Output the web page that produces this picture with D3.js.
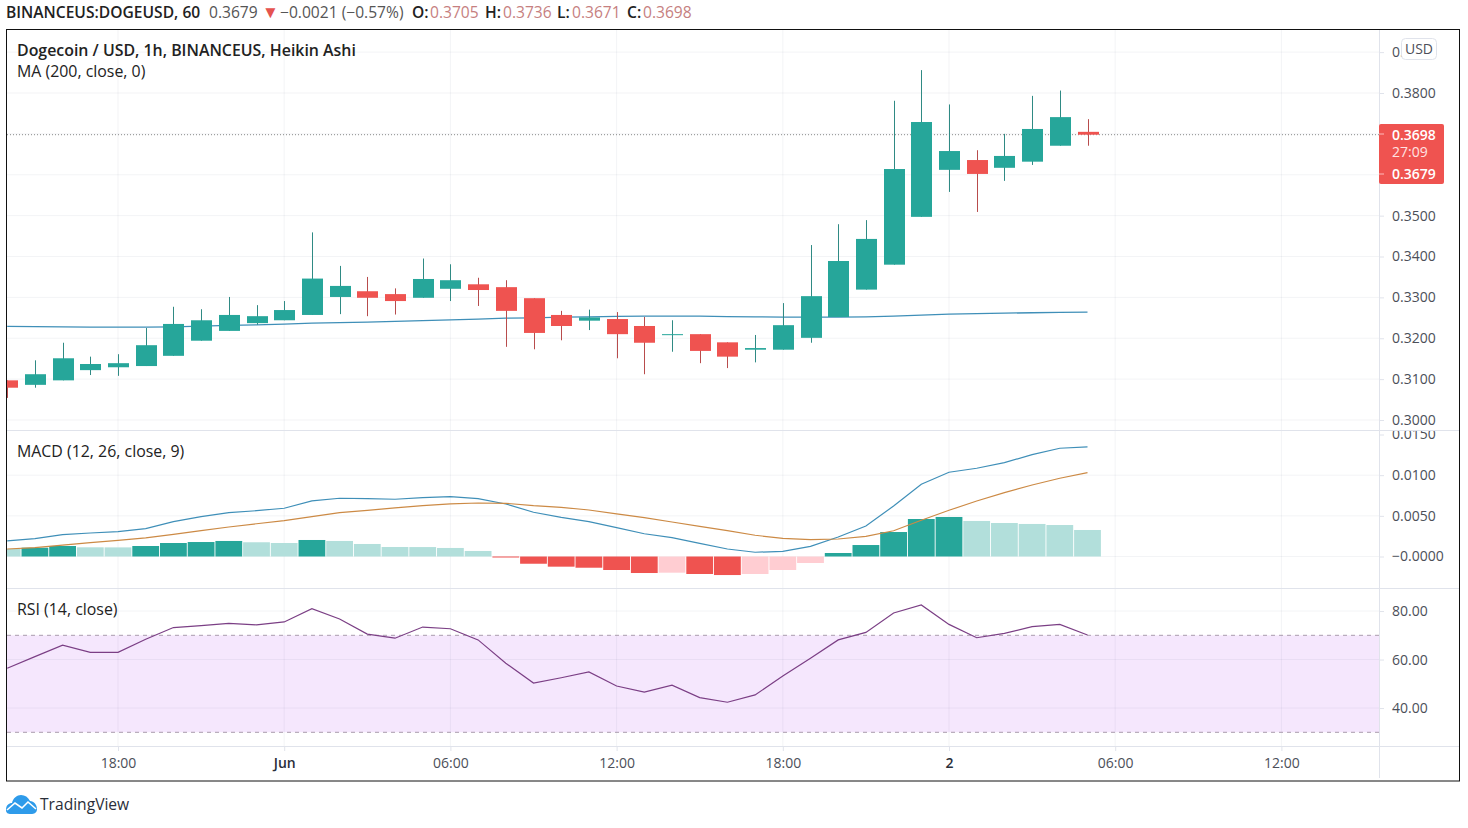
<!DOCTYPE html>
<html>
<head>
<meta charset="utf-8">
<title>DOGEUSD</title>
<script src="https://cdn.jsdelivr.net/npm/d3@7/dist/d3.min.js"></script>
<style>
    html, body { margin: 0; padding: 0; background: #fff; }
    svg { display: block; font-family: "Open Sans", sans-serif; }
    .axis text { font-size: 14px; fill: #4c4f59; font-family: "Open Sans", sans-serif; }
    .axis line { stroke: #e0e3eb; }
    .axis path { display: none; }
    .title { font-size: 15.9px; fill: #222; }
</style>
</head>
<body>
<svg id="chart" width="1468" height="828"></svg>
<script>
// hourly heikin ashi candles, first one is May 31 14:00
const opens  = [.3097,.3086,.3097,.3122,.3129,.3132,.3157,.3194,.3218,.3237,.3244,.3257,.3301,.3315,.3308,.3299,.3321,.3332,.3325,.3298,.3257,.3243,.3247,.3230,.3208,.3210,.3190,.3172,.3172,.3201,.3252,.3319,.3380,.3497,.3612,.3636,.3617,.3632,.3671,.3705];
const highs  = [.3097,.3146,.3189,.3155,.3161,.3225,.3277,.3271,.3301,.3281,.3291,.3459,.3377,.3350,.3322,.3395,.3381,.3348,.3342,.3298,.3267,.3270,.3264,.3252,.3244,.3210,.3190,.3208,.3286,.3428,.3479,.3489,.3781,.3856,.3772,.3660,.3700,.3793,.3806,.3736];
const lows   = [.3054,.3079,.3097,.3110,.3108,.3132,.3157,.3194,.3218,.3233,.3244,.3257,.3259,.3254,.3258,.3299,.3291,.3279,.3179,.3173,.3195,.3220,.3151,.3112,.3167,.3139,.3127,.3141,.3172,.3189,.3252,.3319,.3380,.3497,.3558,.3509,.3585,.3624,.3671,.3671];
const closes = [.3079,.3112,.3151,.3137,.3139,.3183,.3235,.3244,.3257,.3254,.3269,.3346,.3328,.3299,.3291,.3345,.3342,.3318,.3267,.3213,.3230,.3251,.3210,.3189,.3210,.3169,.3155,.3176,.3232,.3303,.3389,.3443,.3614,.3729,.3658,.3602,.3646,.3712,.3741,.3698];
const maValues = [.32289,.32284,.32279,.32272,.32272,.32272,.32279,.32296,.32313,.32328,.32345,.32370,.32382,.32394,.32411,.32431,.32450,.32467,.32492,.32499,.32516,.32524,.32534,.32541,.32541,.32541,.32528,.32524,.32516,.32516,.32516,.32524,.32541,.32565,.32590,.32602,.32614,.32624,.32634,.32639];

const macdLine = [.00191,.00219,.00268,.00289,.00305,.00342,.00428,.0049,.00539,.00563,.00593,.00683,.00716,.00711,.00704,.00723,.00736,.00711,.00646,.00544,.00482,.00428,.00354,.0028,.00231,.00162,.00092,.00052,.00064,.00125,.0024,.00375,.00621,.00888,.01036,.01085,.01154,.01252,.01331,.01347];
const signalLine = [.00092,.00108,.00141,.0017,.00199,.00228,.00273,.00317,.00363,.00403,.0044,.0049,.00539,.00568,.00597,.00625,.00646,.00658,.00654,.00625,.00605,.00572,.00523,.00477,.00424,.00371,.00317,.00261,.00224,.00207,.00215,.00248,.00317,.00445,.00568,.00683,.00785,.00879,.00962,.01031];
const macdHist = [.00092,.00108,.00129,.00113,.00112,.00129,.00166,.00178,.00191,.00175,.00166,.00203,.00191,.00154,.00117,.00116,.00105,.00068,-.00004,-.00089,-.00125,-.00138,-.00166,-.00203,-.00199,-.00215,-.00228,-.00215,-.00166,-.0008,.00043,.00141,.00301,.00461,.00486,.00437,.00412,.004,.00387,.00326];
const rsiValues = [56.4,61.2,65.9,63.0,63.0,68.4,73.2,74.0,74.9,74.3,75.5,81.0,76.7,70.5,68.8,73.4,72.7,68.1,58.5,50.3,52.5,54.9,49.1,46.6,49.4,44.3,42.4,45.4,53.2,60.5,68.1,71.2,79.2,82.5,74.5,69.0,70.8,73.6,74.5,70.1];

const priceTicks = [.39,.38,.37,.36,.35,.34,.33,.32,.31,.30];
const macdTicks = [.015,.01,.005,0];
const macdTickLabels = ["0.0150","0.0100","0.0050","\u22120.0000"];
const rsiTicks = [80,60,40];
const rsiBands = [70,30];
const timeTickHours = [4,10,16,22,28,34,40,46];
const timeTickLabels = ["18:00","Jun","06:00","12:00","18:00","2","06:00","12:00"];
const boldTimeLabels = ["Jun","2"];

const HOUR = 3600000;
const t0 = Date.UTC(2021, 4, 31, 14);
const times = opens.map((d, i) => new Date(t0 + i * HOUR));
const timeTicks = timeTickHours.map(h => new Date(t0 + h * HOUR));

const left = 7, right = 1379, frameRight = 1460, top_ = 30, bottom = 781;
const sepMain = 430, sepMacd = 588, sepTime = 746;

const green = "#26a69a", red = "#ef5350", greenWick = "#2f8a84", redWick = "#b84c4c";
const lightGreen = "#b2dfdb", lightRed = "#ffcdd2";
const gridColor = "rgba(42,46,90,.055)";

let x = d3.scaleUtc().domain([new Date(t0), new Date(t0 + 50 * HOUR)]).range([7.2, 7.2 + 27.7 * 50]);
let y = d3.scaleLinear().domain([.30, .38]).range([420, 93]);
let yMacd = d3.scaleLinear().domain([0, .015]).range([556.5, 434.5]);
let yRsi = d3.scaleLinear().domain([30, 70]).range([732.3, 635.3]);

let svg = d3.select("#chart");
let defs = svg.append("defs");

function addClip(id, x0, y0, w, h) {
    defs.append("clipPath").attr("id", id)
        .append("rect").attr("x", x0).attr("y", y0).attr("width", w).attr("height", h);
}
addClip("clipMain", left, top_, right - left, sepMain - top_);
addClip("clipMacd", left, sepMain + 1, right - left, sepMacd - sepMain - 1);
addClip("clipRsi", left, sepMacd + 1, right - left, sepTime - sepMacd - 1);
addClip("clipMacdAxis", right, sepMain + 1, frameRight - right, sepMacd - sepMain - 1);

// rsi band goes under the grid
svg.append("rect")
    .attr("x", left)
    .attr("y", yRsi(rsiBands[0]))
    .attr("width", right - left)
    .attr("height", yRsi(rsiBands[1]) - yRsi(rsiBands[0]))
    .attr("fill", "#f5e7fd");

/**
 * Grid
 */
function hGrid(scale, values) {
    svg.append("g").selectAll("line")
        .data(values)
        .join("line")
        .attr("x1", left).attr("x2", right)
        .attr("y1", d => scale(d)).attr("y2", d => scale(d))
        .attr("stroke", gridColor);
}
hGrid(y, priceTicks);
hGrid(yMacd, macdTicks.slice(1));
hGrid(yRsi, rsiTicks);

svg.append("g").selectAll("line")
    .data(timeTicks)
    .join("line")
    .attr("x1", d => x(d)).attr("x2", d => x(d))
    .attr("y1", top_).attr("y2", sepTime)
    .attr("stroke", gridColor);

/**
 * Main pane
 */
let main = svg.append("g").attr("clip-path", "url(#clipMain)");

main.append("line")
    .attr("x1", left).attr("x2", right)
    .attr("y1", y(closes[closes.length - 1])).attr("y2", y(closes[closes.length - 1]))
    .attr("stroke", "#8a8a8a")
    .attr("stroke-dasharray", "1 2");

main.append("path")
    .datum(maValues)
    .attr("fill", "none")
    .attr("stroke", "#3f8fb8")
    .attr("stroke-width", 1.3)
    .attr("d", d3.line().x((d, i) => x(times[i])).y(d => y(d)));

let candles = main.selectAll("g.candle")
    .data(times)
    .join("g")
    .attr("class", "candle");

candles.append("line")
    .attr("x1", d => Math.round(x(d)) + .5).attr("x2", d => Math.round(x(d)) + .5)
    .attr("y1", (d, i) => y(highs[i]))
    .attr("y2", (d, i) => y(lows[i]))
    .attr("stroke", (d, i) => closes[i] >= opens[i] ? greenWick : redWick);

candles.append("rect")
    .attr("x", d => Math.round(x(d)) - 10)
    .attr("width", 21)
    .attr("y", (d, i) => y(Math.max(opens[i], closes[i])))
    .attr("height", (d, i) => Math.max(1, Math.abs(y(opens[i]) - y(closes[i]))))
    .attr("fill", (d, i) => closes[i] >= opens[i] ? green : red);

/**
 * MACD pane
 */
function histColor(v, i) {
    let prev = i > 0 ? macdHist[i - 1] : Infinity;
    if (v >= 0) return v > prev ? green : lightGreen;
    return v < prev ? red : lightRed;
}

let macdPane = svg.append("g").attr("clip-path", "url(#clipMacd)");

macdPane.selectAll("rect")
    .data(macdHist)
    .join("rect")
    .attr("x", (d, i) => x(times[i]) - 13.4)
    .attr("width", 26.8)
    .attr("y", d => d >= 0 ? yMacd(d) : yMacd(0))
    .attr("height", d => Math.max(1, Math.abs(yMacd(d) - yMacd(0))))
    .attr("fill", histColor);

function macdPath(values, color) {
    macdPane.append("path")
        .datum(values)
        .attr("fill", "none")
        .attr("stroke", color)
        .attr("stroke-width", 1.2)
        .attr("d", d3.line().x((d, i) => x(times[i])).y(d => yMacd(d)));
}
macdPath(macdLine, "#3f8fb8");
macdPath(signalLine, "#cc8a45");

/**
 * RSI pane
 */
let rsiPane = svg.append("g").attr("clip-path", "url(#clipRsi)");

rsiPane.selectAll("line")
    .data(rsiBands)
    .join("line")
    .attr("x1", left).attr("x2", right)
    .attr("y1", d => yRsi(d)).attr("y2", d => yRsi(d))
    .attr("stroke", "#a99cad")
    .attr("stroke-dasharray", "4 4");

rsiPane.append("path")
    .datum(rsiValues)
    .attr("fill", "none")
    .attr("stroke", "#7b3f85")
    .attr("stroke-width", 1.2)
    .attr("d", d3.line().x((d, i) => x(times[i])).y(d => yRsi(d)));

/**
 * Separators and axes
 */
svg.append("g").selectAll("line")
    .data([sepMain, sepMacd, sepTime])
    .join("line")
    .attr("x1", left).attr("x2", frameRight)
    .attr("y1", d => d + .5).attr("y2", d => d + .5)
    .attr("stroke", "#e0e3eb");

svg.append("line")
    .attr("x1", right + .5).attr("x2", right + .5)
    .attr("y1", top_).attr("y2", bottom - 3)
    .attr("stroke", "#e0e3eb");

svg.append("g")
    .attr("class", "axis")
    .attr("transform", `translate(${right},0)`)
    .call(d3.axisRight(y).tickValues(priceTicks).tickFormat(d3.format(".4f")).tickSize(5).tickPadding(8));

svg.append("g")
    .attr("clip-path", "url(#clipMacdAxis)")
    .append("g")
    .attr("class", "axis")
    .attr("transform", `translate(${right},0)`)
    .call(d3.axisRight(yMacd).tickValues(macdTicks).tickFormat((d, i) => macdTickLabels[i]).tickSize(5).tickPadding(8));

svg.append("g")
    .attr("class", "axis")
    .attr("transform", `translate(${right},0)`)
    .call(d3.axisRight(yRsi).tickValues(rsiTicks).tickFormat(d3.format(".2f")).tickSize(5).tickPadding(8));

let timeAxis = svg.append("g")
    .attr("class", "axis")
    .attr("transform", `translate(0,${sepTime})`)
    .call(d3.axisBottom(x).tickValues(timeTicks).tickFormat((d, i) => timeTickLabels[i]).tickSize(5).tickPadding(7));

timeAxis.selectAll("text")
    .filter(function() { return boldTimeLabels.includes(this.textContent); })
    .style("font-weight", 600)
    .style("fill", "#2a2e39");

// last price label
svg.append("rect")
    .attr("x", right).attr("y", 124)
    .attr("width", 65).attr("height", 60)
    .attr("rx", 2)
    .attr("fill", red);

let priceLabels = svg.append("g")
    .attr("fill", "#fff")
    .attr("font-size", 14);
priceLabels.append("text").attr("x", 1392).attr("y", 139.5).attr("font-weight", 600).text("0.3698");
priceLabels.append("text").attr("x", 1392).attr("y", 157).attr("fill", "#ffe3e3").text("27:09");
priceLabels.append("text").attr("x", 1392).attr("y", 178.5).attr("font-weight", 600).text("0.3679");

svg.append("g").selectAll("line")
    .data([134, 174])
    .join("line")
    .attr("x1", right).attr("x2", right + 5)
    .attr("y1", d => d).attr("y2", d => d)
    .attr("stroke", "#fbb");

// currency button sits over the top tick label
svg.append("rect")
    .attr("x", 1401.5).attr("y", 38.5)
    .attr("width", 35).attr("height", 21)
    .attr("rx", 4)
    .attr("fill", "#fff")
    .attr("stroke", "#e0e3eb");
svg.append("text")
    .attr("x", 1419).attr("y", 54)
    .attr("text-anchor", "middle")
    .attr("font-size", 14)
    .attr("fill", "#4c4f59")
    .text("USD");

// frame
svg.append("rect")
    .attr("x", 6.5).attr("y", 29.5)
    .attr("width", 1453).attr("height", 751.5)
    .attr("fill", "none")
    .attr("stroke", "#111");

/**
 * Texts
 */
let header = svg.append("text").attr("y", 18).attr("font-size", 15.6).attr("fill", "#555");
function tspan(text, at, color, weight) {
    return header.append("tspan").attr("x", at).attr("fill", color).attr("font-weight", weight || 400).text(text);
}
tspan("BINANCEUS:DOGEUSD, 60", 6, "#222", 600);
tspan("0.3679", 209, "#555");
tspan("\u25BC", 262, "#e5534f").attr("font-size", 17);
tspan("\u22120.0021 (\u22120.57%)", 280, "#555");
tspan("O:", 412, "#222", 600);
tspan("0.3705", 430, "#c67f7f");
tspan("H:", 485, "#222", 600);
tspan("0.3736", 503, "#c67f7f");
tspan("L:", 557, "#222", 600);
tspan("0.3671", 572, "#c67f7f");
tspan("C:", 627, "#222", 600);
tspan("0.3698", 643, "#c67f7f");

svg.append("text").attr("class", "title").attr("x", 17).attr("y", 56).attr("font-weight", 600).text("Dogecoin / USD, 1h, BINANCEUS, Heikin Ashi");
svg.append("text").attr("class", "title").attr("x", 17).attr("y", 76.5).text("MA (200, close, 0)");
svg.append("text").attr("class", "title").attr("x", 17).attr("y", 456.5).text("MACD (12, 26, close, 9)");
svg.append("text").attr("class", "title").attr("x", 17).attr("y", 614.5).text("RSI (14, close)");

// logo
let logo = svg.append("g").attr("transform", "translate(6,794)");
logo.append("path")
    .attr("d", "M0 16 C0 11 3 9 6 9 C7 4 11 1 15 1 C19 1 22 3 24 7 C28 7 31 11 31 15 C31 19 28 20 25 20 L5 20 C2 20 0 19 0 16 Z")
    .attr("fill", "#2e9bea");
logo.append("path")
    .attr("d", "M1 16 L9 9 L16 14 L22 8 L30 15")
    .attr("fill", "none")
    .attr("stroke", "#fff")
    .attr("stroke-width", 1.6);
svg.append("text")
    .attr("x", 40).attr("y", 810)
    .attr("font-size", 15.6)
    .attr("fill", "#2a2e39")
    .text("TradingView");
</script>
</body>
</html>
